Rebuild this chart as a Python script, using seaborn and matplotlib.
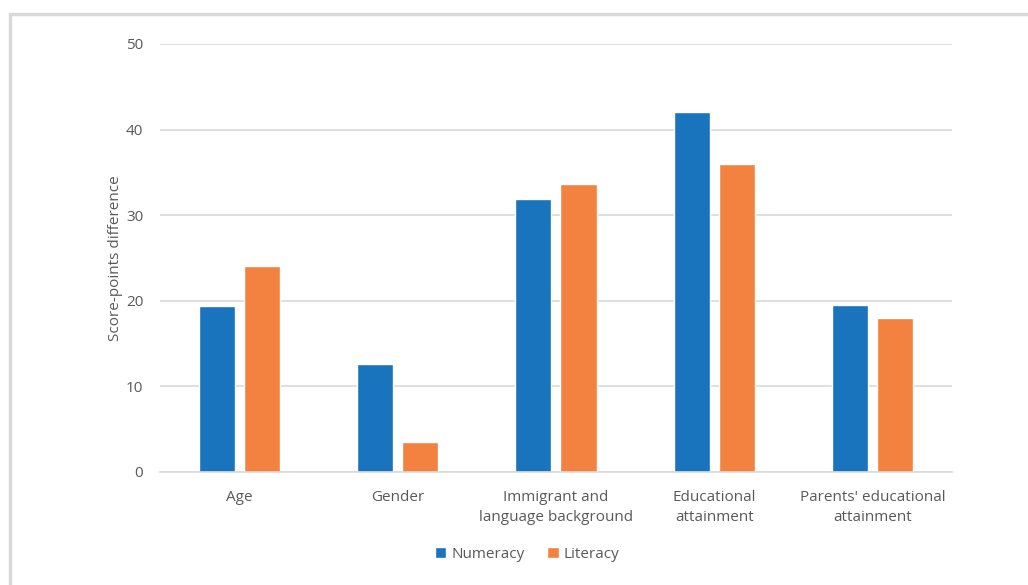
import numpy as np
import pandas as pd
import seaborn as sns
import matplotlib.pyplot as plt
from matplotlib.patches import Rectangle

categories = ["Age", "Gender", "Immigrant and\nlanguage background",
              "Educational\nattainment", "Parents' educational\nattainment"]
numeracy = [19.4, 12.6, 31.9, 42.0, 19.5]
literacy = [24.1, 3.5, 33.7, 36.0, 18.0]
series = ["Numeracy", "Literacy"]

df = pd.DataFrame({
    "category": categories * 2,
    "value": numeracy + literacy,
    "series": [series[0]] * len(categories) + [series[1]] * len(categories),
})

sns.set_style("white")
plt.rcParams['font.family'] = ['Open Sans', 'DejaVu Sans']
text_col = "#595959"
grid_col = "#d9d9d9"
fs = 11

fig = plt.figure(figsize=(10.28, 5.85), dpi=100)
ax = fig.add_axes([0.1556, 0.1932, 0.7704, 0.7316])

sns.barplot(data=df, x="category", y="value", hue="series",
            palette=["#1a73bd", "#f38140"], width=0.57, gap=0.2,
            saturation=1, ax=ax, legend=True)

ax.set_ylim(0, 50)
ax.set_xlim(-0.5, 4.5)
ax.set_yticks(np.arange(0, 51, 10))
ax.set_xticks(range(len(categories)), categories, linespacing=1.45)
ax.yaxis.grid(True, color=grid_col, linewidth=1.2)
ax.set_axisbelow(True)
for s in ["top", "right", "left"]:
    ax.spines[s].set_visible(False)
ax.spines["bottom"].set_color(grid_col)
ax.spines["bottom"].set_linewidth(1.2)
ax.tick_params(axis="both", length=0, colors=text_col, labelsize=fs)
ax.tick_params(axis="y", pad=12)
ax.tick_params(axis="x", pad=13)
ax.set_xlabel("")
ax.set_ylabel("Score-points difference", color=text_col, fontsize=fs, labelpad=2)

leg = ax.legend(loc="center", bbox_to_anchor=(527 / 1028, 1 - 554 / 585),
                bbox_transform=fig.transFigure, ncol=2, frameon=False,
                fontsize=fs, handlelength=0.75, handleheight=0.75,
                handletextpad=0.3, columnspacing=1.5)
for t in leg.get_texts():
    t.set_color(text_col)

# chart frame
fig.patches.append(Rectangle((10 / 1028, -0.1), 1.2, 1 - 14 / 585 + 0.1,
                             transform=fig.transFigure, fill=False,
                             edgecolor="#d9d9d9", linewidth=2.5))

fig.savefig("out.png", dpi=100)
